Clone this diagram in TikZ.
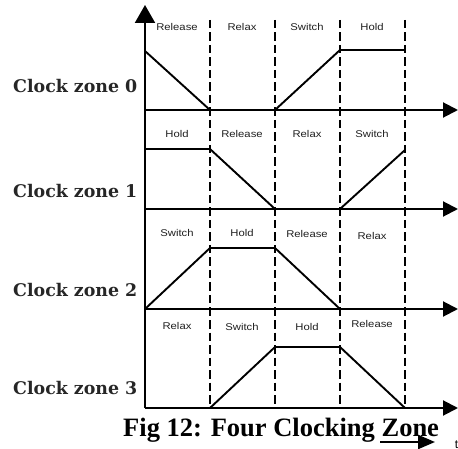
\documentclass[tikz,border=0pt]{standalone}
\usepackage{fontspec}
\usetikzlibrary{arrows.meta}
\setmainfont{Liberation Serif}
\newfontfamily\lblfont{Liberation Sans}
\newfontfamily\zonefont{DejaVu Serif}
\tikzset{
  axisline/.style={line width=2pt, -{Triangle[length=15pt,width=15pt]}},
  sig/.style={line width=1.9pt, line join=miter},
  divider/.style={line width=1.8pt, dash pattern=on 8.5pt off 4pt},
  phase/.style={font=\lblfont\fontsize{9.8}{11}\selectfont, text=black!88, inner sep=0pt},
  zonelbl/.style={font=\zonefont\bfseries\fontsize{17.4}{20}\selectfont, text=black!85, anchor=base west, inner sep=0pt},
  caption/.style={font=\bfseries\fontsize{26.5}{29}\selectfont, anchor=base west, inner sep=0pt}
}
\newcommand{\ph}[1]{\scalebox{1.15}[1]{#1}}
\begin{document}
\begin{tikzpicture}[x=1pt,y=-1pt]
\useasboundingbox (0,0) rectangle (458,449);
% columns and axes
\coordinate (o) at (145,408);
\coordinate (top) at (145,5);
\foreach \n/\y in {0/110,1/209,2/309,3/408}{
  \coordinate (s\n) at (145,\y);
  \coordinate (e\n) at (458,\y);
}
% dividers
\foreach \x in {210,275,340}{
  \coordinate (dt\x) at (\x,20);
  \coordinate (db\x) at (\x,408);
  \draw[divider] (dt\x) -- (db\x);
}
\coordinate (dt405) at (405,20);
\coordinate (db405) at (405,408);
\draw[divider, line width=2.6pt] (dt405) -- (db405);
% axes
\draw[axisline, -{Triangle[length=18pt,width=20pt]}] (o) -- (top);
\foreach \n in {0,1,2,3}{ \draw[axisline] (s\n) -- (e\n); }
% signals
\draw[sig] (145,51) -- (210,110);
\draw[sig] (275,110) -- (340,50) -- (405,50);
\draw[sig] (145,149) -- (210,149) -- (275,209);
\draw[sig] (340,209) -- (405,150);
\draw[sig] (145,309) -- (210,248) -- (275,248) -- (340,309);
\draw[sig] (210,408) -- (275,347) -- (340,347) -- (405,408);
% phase labels
\node[phase] (p00) at (177,27) {\ph{Release}};
\node[phase] (p01) at (242,27) {\ph{Relax}};
\node[phase] (p02) at (307,27) {\ph{Switch}};
\node[phase] (p03) at (372,27) {\ph{Hold}};
\node[phase] (p10) at (177,134) {\ph{Hold}};
\node[phase] (p11) at (242,134) {\ph{Release}};
\node[phase] (p12) at (307,134) {\ph{Relax}};
\node[phase] (p13) at (372,134) {\ph{Switch}};
\node[phase] (p20) at (177,233) {\ph{Switch}};
\node[phase] (p21) at (242,233) {\ph{Hold}};
\node[phase] (p22) at (307,234) {\ph{Release}};
\node[phase] (p23) at (372,236) {\ph{Relax}};
\node[phase] (p30) at (177,326) {\ph{Relax}};
\node[phase] (p31) at (242,327) {\ph{Switch}};
\node[phase] (p32) at (307,327) {\ph{Hold}};
\node[phase] (p33) at (372,324) {\ph{Release}};
% zone labels
\node[zonelbl] (z0) at (13,93) {Clock zone 0};
\node[zonelbl] (z1) at (13,198) {Clock zone 1};
\node[zonelbl] (z2) at (13,296) {Clock zone 2};
\node[zonelbl] (z3) at (13,394) {Clock zone 3};
% caption
\node[caption] (cap) at (123,436) {Fig 12: Four Clocking Zone};
\coordinate (ua) at (380,442);
\coordinate (ub) at (435,442);
\draw[line width=2.2pt, -{Triangle[length=17pt,width=14pt]}] (ua) -- (ub);
\node[font=\lblfont\fontsize{12}{13}\selectfont, anchor=base west, inner sep=0pt] (tlbl) at (454.6,448) {t};
\end{tikzpicture}
\end{document}
